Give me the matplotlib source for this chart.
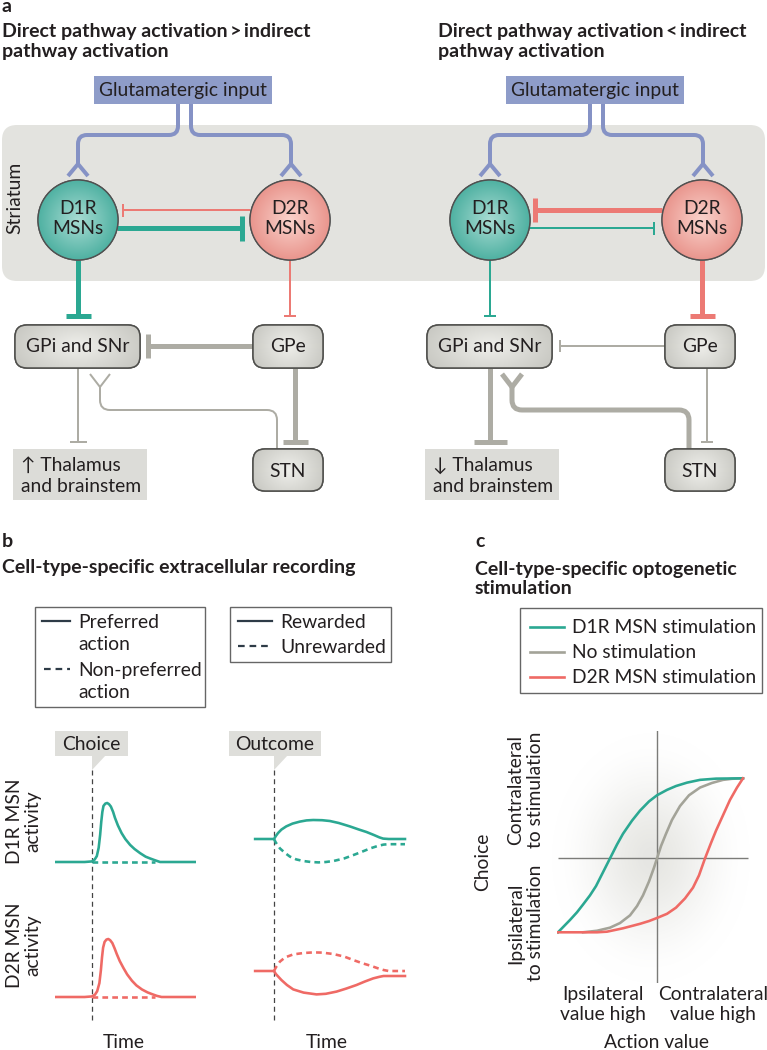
import numpy as np
import matplotlib.pyplot as plt
import matplotlib.colors as mcolors
from matplotlib.patches import Rectangle, Circle, FancyBboxPatch, Polygon, PathPatch
from matplotlib.path import Path

plt.rcParams['font.family'] = ['Lato', 'DejaVu Sans']

# ---------------- data ----------------
# panel a: connection strength in each scheme (left: direct > indirect, right: direct < indirect)
conn_names = ['d2_d1', 'd1_d2', 'd1_gpi', 'd2_gpe', 'gpe_gpi', 'gpi_thal', 'stn_gpi', 'gpe_stn']
conn_left = ['thin', 'thick', 'thick', 'thin', 'thick', 'thin', 'thin', 'thick']
conn_right = ['thick', 'thin', 'thin', 'thick', 'thin', 'thick', 'thick', 'thin']
thal_labels = ['\u2191 Thalamus\nand brainstem', '\u2193 Thalamus\nand brainstem']
titles_a = ['Direct pathway activation\u2009>\u2009indirect\npathway activation',
            'Direct pathway activation\u2009<\u2009indirect\npathway activation']

# panel b: activity around choice (time after choice, activity normalised to the peak)
choice_t_d1 = [-1.0, -0.2, 0.0, 0.07, 0.13, 0.18, 0.22, 0.25, 0.28, 0.31, 0.36, 0.41, 0.46, 0.51,
               0.57, 0.62, 0.7, 0.8, 0.9, 1.03, 1.15, 1.3, 1.45, 1.57, 1.7, 1.84, 2.8]
choice_a_d1 = [0, 0, 0.01, 0.04, 0.1, 0.24, 0.46, 0.68, 0.85, 0.95, 0.99, 1.0, 0.98, 0.94,
               0.85, 0.75, 0.62, 0.49, 0.39, 0.29, 0.22, 0.15, 0.09, 0.06, 0.03, 0.0, 0.0]
choice_t_d2 = [-1.0, -0.2, 0.0, 0.08, 0.14, 0.2, 0.24, 0.27, 0.3, 0.34, 0.39, 0.44, 0.49, 0.55,
               0.61, 0.67, 0.75, 0.85, 0.95, 1.08, 1.2, 1.35, 1.5, 1.62, 1.75, 1.88, 2.8]
choice_a_d2 = [0, 0, 0.01, 0.04, 0.1, 0.24, 0.46, 0.68, 0.85, 0.95, 0.99, 1.0, 0.98, 0.93,
               0.84, 0.74, 0.62, 0.5, 0.39, 0.28, 0.2, 0.13, 0.08, 0.05, 0.02, 0.0, 0.0]
nonpref_t = [0.0, 1.7]
nonpref_a = [0.0, 0.0]

# panel b: activity around outcome
out_t_d1_rew = [-0.51, 0.0, 0.05, 0.11, 0.2, 0.33, 0.5, 0.7, 0.88, 1.06, 1.3, 1.51, 1.75, 2.05,
                2.3, 2.5, 2.7, 2.85, 2.95, 3.1, 3.54]
out_a_d1_rew = [0, 0, 0.15, 0.3, 0.47, 0.63, 0.77, 0.87, 0.93, 0.95, 0.94, 0.9, 0.8, 0.63,
                0.47, 0.35, 0.2, 0.08, 0.02, 0, 0]
out_t_d1_unr = [0, 0.05, 0.16, 0.3, 0.43, 0.6, 0.79, 1.0, 1.2, 1.4, 1.61, 1.9, 2.15, 2.4,
                2.6, 2.8, 2.96, 3.1, 3.54]
out_a_d1_unr = [0, -0.18, -0.47, -0.7, -0.88, -1.02, -1.1, -1.15, -1.17, -1.15, -1.1, -0.97, -0.8, -0.62,
                -0.47, -0.35, -0.28, -0.26, -0.26]
out_t_d2_unr = [0, 0.05, 0.16, 0.3, 0.52, 0.8, 1.06, 1.3, 1.6, 1.9, 2.14, 2.4, 2.6, 2.8, 2.96, 3.1, 3.54]
out_a_d2_unr = [0, 0.18, 0.47, 0.68, 0.83, 0.9, 0.93, 0.92, 0.85, 0.72, 0.55, 0.38, 0.27, 0.14, 0.05, 0.0, 0.0]
out_t_d2_rew = [-0.51, 0.0, 0.05, 0.2, 0.35, 0.52, 0.8, 1.15, 1.4, 1.69, 1.95, 2.23, 2.45, 2.68,
                2.85, 2.96, 3.1, 3.54]
out_a_d2_rew = [0, 0, -0.15, -0.45, -0.7, -0.92, -1.08, -1.17, -1.14, -1.03, -0.88, -0.7, -0.53, -0.37,
                -0.29, -0.25, -0.25, -0.25]

# panel c: choice (0 = ipsilateral, 1 = contralateral) vs action value
val_d1 = [-0.99, -0.93, -0.87, -0.8, -0.74, -0.67, -0.61, -0.54, -0.47, -0.4, -0.34, -0.25, -0.17,
          -0.08, 0.0, 0.1, 0.19, 0.3, 0.43, 0.59, 0.86]
choice_d1 = [0.0, 0.04, 0.08, 0.13, 0.18, 0.24, 0.3, 0.39, 0.48, 0.57, 0.64, 0.725, 0.79,
             0.85, 0.89, 0.925, 0.95, 0.972, 0.99, 0.998, 1.0]
val_none = [-0.74, -0.6, -0.47, -0.37, -0.27, -0.2, -0.14, -0.08, -0.03, 0.0, 0.04, 0.09, 0.15,
            0.23, 0.32, 0.43, 0.55, 0.66, 0.75, 0.86]
choice_none = [0.0, 0.01, 0.03, 0.06, 0.11, 0.17, 0.24, 0.33, 0.42, 0.48, 0.56, 0.64, 0.73,
               0.82, 0.89, 0.94, 0.97, 0.99, 0.997, 1.0]
val_d2 = [-0.99, -0.74, -0.6, -0.5, -0.34, -0.17, -0.08, 0.0, 0.1, 0.19, 0.28, 0.36, 0.42,
          0.48, 0.54, 0.59, 0.66, 0.73, 0.8, 0.86]
choice_d2 = [0, 0, 0.0, 0.004, 0.026, 0.055, 0.073, 0.093, 0.12, 0.16, 0.22, 0.29, 0.37,
             0.48, 0.58, 0.66, 0.76, 0.86, 0.94, 1.0]
stim_labels = ['D1R MSN stimulation', 'No stimulation', 'D2R MSN stimulation']

# ---------------- style ----------------
TXT = '#231f20'
TEAL = '#2ba892'
RED = '#ef6a65'
RED_A = '#ec7a74'
GRAYC = '#a3a398'
GLINE = '#adaca4'
BLUE = '#8592c5'
PX = 0.72  # points per pixel at dpi 100
FS = 13.9
FB = 14.0

W, H = 767, 1050
fig = plt.figure(figsize=(W / 100, H / 100), dpi=100)
ax = fig.add_axes([0, 0, 1, 1])
ax.set_xlim(0, W)
ax.set_ylim(H, 0)
ax.axis('off')


def txt(x, y, s, size=FS, weight='normal', ha='left', lh=21, **kw):
    for i, line in enumerate(s.split('\n')):
        ax.text(x, y + i * lh, line, fontsize=size, fontweight=weight, ha=ha, va='baseline',
                color=TXT, **kw)


def rtxt(x, y, s, size=FS, lh=1.1):
    ax.text(x, y, s, fontsize=size, rotation=90, ha='center', va='center', color=TXT,
            rotation_mode='anchor', multialignment='center', linespacing=lh)


def rounded(points, r=9):
    verts, codes = [points[0]], [Path.MOVETO]
    for i in range(1, len(points) - 1):
        p0, p1, p2 = (np.array(p, float) for p in points[i - 1:i + 2])
        d1 = (p1 - p0) / np.linalg.norm(p1 - p0)
        d2 = (p2 - p1) / np.linalg.norm(p2 - p1)
        verts += [tuple(p1 - d1 * r), tuple(p1), tuple(p1 + d2 * r)]
        codes += [Path.LINETO, Path.CURVE3, Path.CURVE3]
    verts.append(points[-1])
    codes.append(Path.LINETO)
    return Path(verts, codes)


def wire(points, color, w, r=9, z=3):
    ax.add_patch(PathPatch(rounded(points, r), fill=False, edgecolor=color, lw=w * PX,
                           capstyle='butt', joinstyle='round', zorder=z))


def inhib(p0, p1, color, w, half):
    ax.plot([p0[0], p1[0]], [p0[1], p1[1]], color=color, lw=w * PX, solid_capstyle='butt', zorder=3)
    if p0[0] == p1[0]:
        ax.plot([p1[0] - half, p1[0] + half], [p1[1], p1[1]], color=color, lw=w * PX,
                solid_capstyle='butt', zorder=3)
    else:
        ax.plot([p1[0], p1[0]], [p1[1] - half, p1[1] + half], color=color, lw=w * PX,
                solid_capstyle='butt', zorder=3)


def fork(x, y, dy, spread, color, w):
    ax.plot([x - spread, x, x + spread], [y + dy, y, y + dy], color=color, lw=w * PX,
            solid_capstyle='butt', solid_joinstyle='miter', zorder=3)


def radial(cx, cy, rx, ry, c_in, c_out, clip=None, z=2, a_in=1.0, a_out=1.0, power=1.0):
    n = 160
    yy, xx = np.mgrid[-1:1:n * 1j, -1:1:n * 1j]
    r = np.clip(np.hypot(xx, yy), 0, 1) ** power
    ci = np.array(mcolors.to_rgba(c_in, a_in))
    co = np.array(mcolors.to_rgba(c_out, a_out))
    img = ci[None, None, :] * (1 - r[..., None]) + co[None, None, :] * r[..., None]
    im = ax.imshow(img, extent=(cx - rx, cx + rx, cy + ry, cy - ry), zorder=z,
                   interpolation='bilinear', aspect='auto')
    if clip is not None:
        im.set_clip_path(clip)


def rbox(x0, y0, x1, y1, label, baseline):
    p = FancyBboxPatch((x0, y0), x1 - x0, y1 - y0, boxstyle='round,pad=0,rounding_size=12',
                       facecolor='#d9d9d4', edgecolor='#4f4f4c', lw=1.1, zorder=4)
    ax.add_patch(p)
    radial((x0 + x1) / 2, (y0 + y1) / 2, (x1 - x0) * 0.62, (y1 - y0) * 0.9,
           '#efefeb', '#c4c4be', clip=p, z=4.1)
    edge = FancyBboxPatch((x0, y0), x1 - x0, y1 - y0, boxstyle='round,pad=0,rounding_size=12',
                          facecolor='none', edgecolor='#4f4f4c', lw=1.1, zorder=4.2)
    ax.add_patch(edge)
    txt((x0 + x1) / 2, baseline, label, ha='center', zorder=5)


def cell(cx, cy, label, c_in, c_out):
    c = Circle((cx, cy), 40, facecolor=c_out, edgecolor='#505050', lw=1.0, zorder=4)
    ax.add_patch(c)
    radial(cx, cy, 40, 40, c_in, c_out, clip=c, z=4.1)
    ax.add_patch(Circle((cx, cy), 40, facecolor='none', edgecolor='#505050', lw=1.0, zorder=4.2))
    txt(cx, cy - 6, label, ha='center', lh=20, zorder=5)


# ---------------- panel a ----------------
txt(2, 12, 'a', size=FB, weight='bold')
ax.add_patch(FancyBboxPatch((2, 125), 763, 156, boxstyle='round,pad=0,rounding_size=15',
                            facecolor='#e3e3df', edgecolor='none', zorder=1))
rtxt(15, 198, 'Striatum')

widths = {'thick': 5.0, 'thin': 2.0}
for k, (dx, conns) in enumerate([(0, conn_left), (412, conn_right)]):
    c = dict(zip(conn_names, conns))
    txt(2 + 436 * k, 37, titles_a[k], size=FB, weight='bold', lh=20)
    ax.add_patch(Rectangle((94 + dx, 76), 178, 28, facecolor='#8e9cc9', edgecolor='none', zorder=2))
    txt(183 + dx, 96, 'Glutamatergic input', ha='center', zorder=3)
    # glutamatergic input to both cell types
    wire([(178 + dx, 104), (178 + dx, 135), (78 + dx, 135), (78 + dx, 165)], BLUE, 4)
    wire([(191 + dx, 104), (191 + dx, 135), (291 + dx, 135), (291 + dx, 165)], BLUE, 4)
    fork(78 + dx, 164, 12, 10, BLUE, 4)
    fork(291 + dx, 164, 12, 10, BLUE, 4)
    cell(78 + dx, 220, 'D1R\nMSNs', '#a8dcd3', '#4fb1a2')
    cell(290 + dx, 220, 'D2R\nMSNs', '#fad3cc', '#e9958d')
    # lateral inhibition
    w = widths[c['d2_d1']]
    inhib((250 + dx, 210), (123 + dx, 210), RED_A, w, 12 if w > 3 else 6.5)
    w = widths[c['d1_d2']]
    inhib((117 + dx, 228), (242 + dx, 228), TEAL, w, 12.5 if w > 3 else 6.5)
    # striatal outputs
    w = widths[c['d1_gpi']]
    inhib((78 + dx, 260), (78 + dx, 316), TEAL, w, 12.5 if w > 3 else 6)
    w = widths[c['d2_gpe']]
    inhib((290 + dx, 260), (290 + dx, 316), RED_A, w, 12.5 if w > 3 else 6)
    # basal ganglia nuclei
    rbox(15 + dx, 325, 140 + dx, 368, 'GPi and SNr', 352)
    rbox(253 + dx, 325, 323 + dx, 368, 'GPe', 352)
    rbox(253 + dx, 449, 323 + dx, 491, 'STN', 477)
    w = widths[c['gpe_gpi']]
    inhib((253 + dx, 346), (148 + dx, 346), GLINE, w, 12 if w > 3 else 6)
    w = widths[c['gpi_thal']]
    inhib((78 + dx, 368), (78 + dx, 442), GLINE, w, 16.5 if w > 3 else 8.5)
    w = widths[c['gpe_stn']]
    inhib((295 + dx, 368), (295 + dx, 442), GLINE, w, 12.5 if w > 3 else 6)
    w = widths[c['stn_gpi']]
    wire([(277 + dx, 449), (277 + dx, 410), (100 + dx, 410), (100 + dx, 386)], GLINE, w, r=10)
    fork(100 + dx, 387, -13, 10, GLINE, w)
    ax.add_patch(Rectangle((13 + dx, 449), 134, 51, facecolor='#dcdcd8', edgecolor='none', zorder=2))
    txt(21 + dx, 471, thal_labels[k], lh=21)

# ---------------- panel b ----------------
txt(2, 547, 'b', size=FB, weight='bold')
txt(2, 573, 'Cell-type-specific extracellular recording', size=FB, weight='bold')

DARK = '#2e3b47'
ax.add_patch(Rectangle((35, 607), 170, 100, facecolor='none', edgecolor='#666', lw=1.0))
ax.plot([42, 70], [621, 621], color=DARK, lw=1.6)
ax.plot([44, 70], [669, 669], color=DARK, lw=1.6, dashes=(3, 2.2))
txt(78, 628, 'Preferred\naction', lh=22)
txt(78, 676, 'Non-preferred\naction', lh=22)
ax.add_patch(Rectangle((230, 607), 161, 55, facecolor='none', edgecolor='#666', lw=1.0))
ax.plot([238, 272], [621, 621], color=DARK, lw=1.6)
ax.plot([238, 272], [646, 646], color=DARK, lw=1.6, dashes=(3, 2.2))
txt(280, 628, 'Rewarded')
txt(280, 653, 'Unrewarded')

for xc, x0, x1, lab in [(92, 55, 128, 'Choice'), (274, 229, 321, 'Outcome')]:
    ax.add_patch(Rectangle((x0, 731), x1 - x0, 25, facecolor='#dededa', edgecolor='none'))
    ax.add_patch(Polygon([(xc, 755), (xc + 14, 755), (xc, 770)], facecolor='#dededa', edgecolor='none'))
    txt((x0 + x1) / 2, 750, lab, ha='center')
    ax.plot([xc, xc], [770, 1020], color='#444', lw=0.9, dashes=(4, 3))

rtxt(24, 821, 'D1R MSN\nactivity')
rtxt(24, 945, 'D2R MSN\nactivity')
txt(124, 1048, 'Time', ha='center')
txt(327, 1048, 'Time', ha='center')


def px_axes(x0, y0, x1, y1):
    a = fig.add_axes([x0 / W, 1 - y1 / H, (x1 - x0) / W, (y1 - y0) / H])
    a.axis('off')
    return a


LW = 2.6 * PX
DASH = (2.2, 1.6)
a1 = px_axes(55, 791.2, 195.6, 873.8)
a1.set_xlim(-1, 2.8); a1.set_ylim(-0.2, 1.2)
a1.plot(nonpref_t, nonpref_a, color=TEAL, lw=LW, dashes=DASH)
a1.plot(choice_t_d1, choice_a_d1, color=TEAL, lw=LW)
a2 = px_axes(55, 927.4, 195.6, 1008.6)
a2.set_xlim(-1, 2.8); a2.set_ylim(-0.2, 1.2)
a2.plot(nonpref_t, nonpref_a, color=RED, lw=LW, dashes=DASH)
a2.plot(choice_t_d2, choice_a_d2, color=RED, lw=LW)
a3 = px_axes(251.8, 809, 407.2, 869)
a3.set_xlim(-0.6, 3.6); a3.set_ylim(-1.5, 1.5)
a3.plot(out_t_d1_unr, out_a_d1_unr, color=TEAL, lw=LW, dashes=DASH)
a3.plot(out_t_d1_rew, out_a_d1_rew, color=TEAL, lw=LW)
a4 = px_axes(251.8, 941, 407.2, 1001)
a4.set_xlim(-0.6, 3.6); a4.set_ylim(-1.5, 1.5)
a4.plot(out_t_d2_unr, out_a_d2_unr, color=RED, lw=LW, dashes=DASH)
a4.plot(out_t_d2_rew, out_a_d2_rew, color=RED, lw=LW)

# ---------------- panel c ----------------
txt(475, 547, 'c', size=FB, weight='bold')
txt(475, 575, 'Cell-type-specific optogenetic\nstimulation', size=FB, weight='bold', lh=19)
ax.add_patch(Rectangle((520, 608), 242, 85, facecolor='none', edgecolor='#666', lw=1.0))
for i, (lab, col) in enumerate(zip(stim_labels, [TEAL, GRAYC, RED])):
    ax.plot([530, 564], [627 + 25 * i, 627 + 25 * i], color=col, lw=1.9)
    txt(572, 633 + 25 * i, lab)

radial(651, 858, 100, 126, '#d6d6d0', '#ffffff', z=0.5, a_in=0.6, a_out=0.0, power=1.6)
rtxt(483, 862, 'Choice')
rtxt(526, 790, 'Contralateral\nto stimulation', lh=1.2)
rtxt(526, 923, 'Ipsilateral\nto stimulation', lh=1.2)
txt(603, 1000, 'Ipsilateral\nvalue high', ha='center', lh=20)
txt(713, 1000, 'Contralateral\nvalue high', ha='center', lh=20)
txt(657, 1048, 'Action value', ha='center')

ac = px_axes(557, 730.6, 757, 983.1)
ac.set_xlim(-1, 1); ac.set_ylim(-0.33, 1.31)
ac.axvline(0, color='#7b7b78', lw=1.0)
ac.hlines(0.48, -0.99, 0.91, color='#7b7b78', lw=1.0)
ac.plot(val_none, choice_none, color=GRAYC, lw=LW)
ac.plot(val_d1, choice_d1, color=TEAL, lw=LW)
ac.plot(val_d2, choice_d2, color=RED, lw=LW)

ax.set_xlim(0, W)
ax.set_ylim(H, 0)
fig.savefig('out.png', dpi=100)
